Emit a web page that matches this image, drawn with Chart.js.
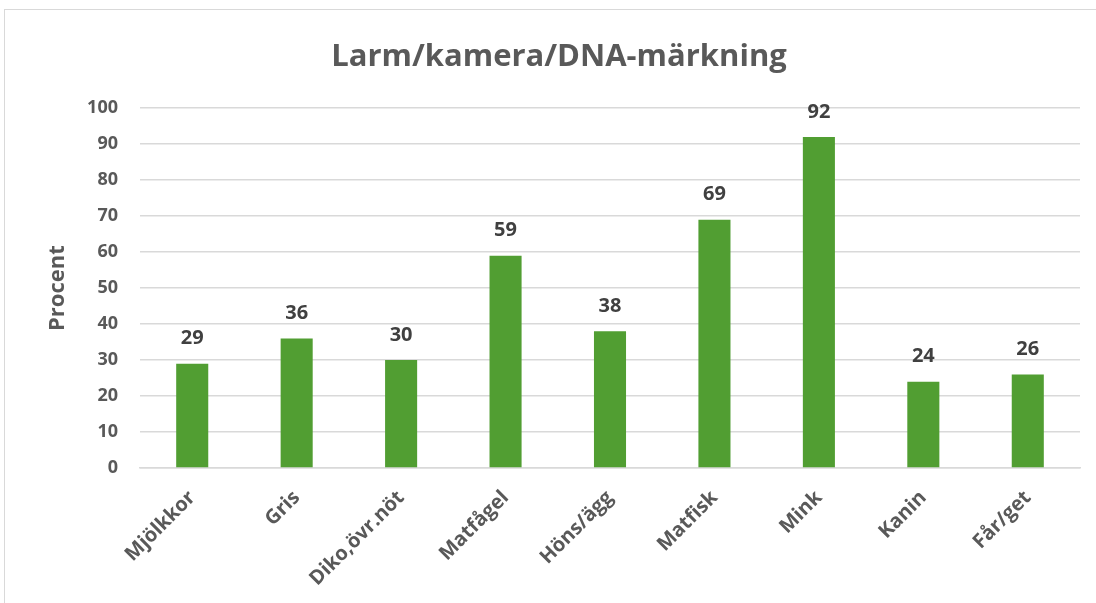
<!DOCTYPE html>
<html><head><meta charset="utf-8">
<script src="https://cdn.jsdelivr.net/npm/chart.js@4/dist/chart.umd.min.js"></script>
<style>
html,body{margin:0;padding:0;background:#fff;}
#wrap{position:relative;width:1096px;height:603px;overflow:hidden;}
#frame{position:absolute;left:4px;top:9px;width:1100px;height:610px;border:1px solid #d9d9d9;box-sizing:border-box;}
canvas{position:absolute;left:0;top:0;}
</style></head>
<body><div id="wrap"><div id="frame"></div><canvas id="c" width="1096" height="603"></canvas></div>
<script>
const categories = ["Mjölkkor","Gris","Diko,övr.nöt","Matfågel","Höns/ägg","Matfisk","Mink","Kanin","Får/get"];
const values = [29,36,30,59,38,69,92,24,26];
const titleText = "Larm/kamera/DNA-märkning";
const yTitle = "Procent";

const FONT = "'Open Sans', sans-serif";
const dataLabels = {
  id:'dataLabels',
  afterDatasetsDraw(chart){
    const ctx = chart.ctx;
    const meta = chart.getDatasetMeta(0);
    ctx.save();
    ctx.font = "bold 20px " + FONT;
    ctx.fillStyle = "#404040";
    ctx.textAlign = "center";
    ctx.textBaseline = "middle";
    meta.data.forEach((bar,i)=>{
      ctx.fillText(String(values[i]), bar.x, bar.y - 25);
    });
    ctx.restore();
  }
};

new Chart(document.getElementById('c'), {
  type:'bar',
  data:{labels:categories, datasets:[{data:values, backgroundColor:'#519e32', borderWidth:0, categoryPercentage:1.0, barPercentage:0.307}]},
  options:{
    responsive:false, animation:false,
    layout:{padding:{left:38,right:16,top:0,bottom:0}},
    plugins:{
      legend:{display:false}, tooltip:{enabled:false},
      title:{display:true, text:titleText, color:'#595959', font:{family:FONT, size:31, weight:'bold'}, padding:{top:39,bottom:32}}
    },
    scales:{
      x:{
        grid:{display:false, drawTicks:false},
        border:{display:true,color:'#d9d9d9',width:1.5},
        ticks:{color:'#595959', font:{family:FONT,size:20,weight:'bold'}, minRotation:45, maxRotation:45, padding:18, autoSkip:false},
        afterFit(s){ s.height = 135; }
      },
      y:{
        min:0,max:100,
        ticks:{stepSize:10, color:'#595959', font:{family:FONT,size:18,weight:'bold'}, padding:22},
        grid:{color:'#d9d9d9', lineWidth:1.5, drawTicks:false},
        border:{display:false},
        title:{display:true, text:yTitle, color:'#595959', font:{family:FONT,size:22,weight:'bold'}, padding:{top:7,bottom:0}},
        afterFit(s){ s.width = 102; }
      }
    }
  },
  plugins:[dataLabels]
});
</script></body></html>
